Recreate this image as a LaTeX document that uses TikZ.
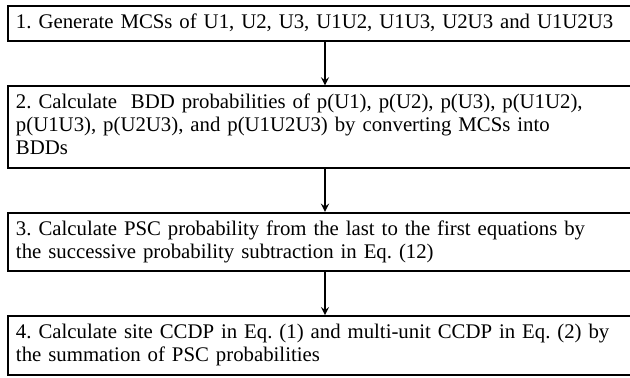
\documentclass[tikz,border=0pt]{standalone}
\usepackage{fontspec}
\setmainfont{Liberation Serif}
\usepackage{tikz}
\usetikzlibrary{positioning}

\begin{document}
\frenchspacing
\begin{tikzpicture}[%
       >=stealth,
       node distance=21.5pt,
       line width=1pt,
       stepbox/.style={draw, rectangle, align=left, text width=309pt,
                       inner xsep=4pt, inner ysep=3.1pt,
                       execute at begin node=\strut,
                       execute at end node=\strut,
                       font=\fontsize{10.4}{11.5}\selectfont}
     ]
     \useasboundingbox (0,0) rectangle (315pt,-189pt);
     \clip (0,0) rectangle (315pt,-189pt);
     \node[stepbox,anchor=north west] (s1) at (3.5pt,-2.5pt)
        {1. Generate MCSs of U1, U2, U3, U1U2, U1U3, U2U3 and U1U2U3};
     \node[stepbox] (s2) [below=of s1]
        {2. Calculate \ BDD probabilities of p(U1), p(U2), p(U3), p(U1U2),\\
         p(U1U3), p(U2U3), and p(U1U2U3) by converting MCSs into\\
         BDDs};
     \node[stepbox] (s3) [below=of s2]
        {3. Calculate PSC probability from the last to the first equations by\\
         the successive probability subtraction in Eq. (12)};
     \node[stepbox] (s4) [below=of s3]
        {4. Calculate site CCDP in Eq. (1) and multi-unit CCDP in Eq. (2) by\\
         the summation of PSC probabilities};

     \draw[->,line width=0.8pt] (s1) -- (s2);
     \draw[->,line width=0.8pt] (s2) -- (s3);
     \draw[->,line width=0.8pt] (s3) -- (s4);
\end{tikzpicture}
\end{document}
